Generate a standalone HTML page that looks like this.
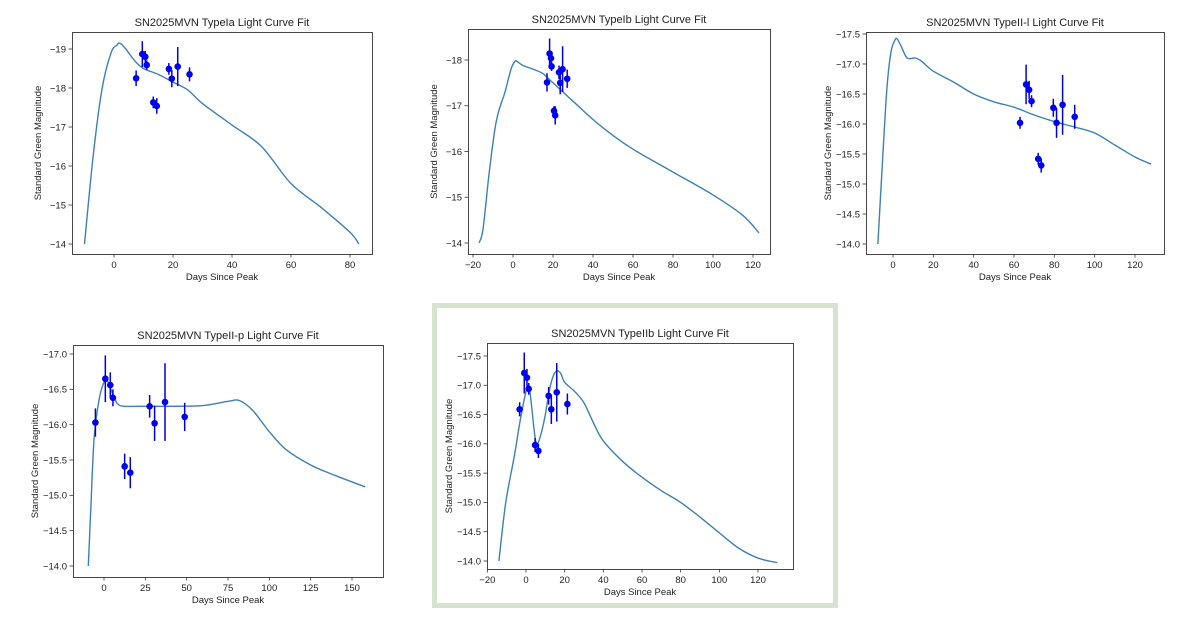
<!DOCTYPE html>
<html><head><meta charset="utf-8"><style>
body{margin:0;background:#fff;}
svg{display:block;font-family:"Liberation Sans",sans-serif;}
</style></head><body>
<svg id="fig" width="1184" height="634">
<rect x="434.5" y="305.5" width="401" height="300" fill="none" stroke="#d5e4cc" stroke-width="5"/>
</svg>
<script>
// ---- Type Ia ----
const iaCurveDays=[-10,-7,-4,-1,1,2,4,7,10,15,20,25,30,40,50,60,70,80,83];
const iaCurveMags=[-14,-16.3,-18,-18.9,-19.1,-19.15,-19,-18.7,-18.5,-18.35,-18.15,-17.95,-17.6,-17.05,-16.5,-15.55,-14.95,-14.3,-14];
const iaObsDays=[7.5,9.6,10.6,11.1,13.3,14.5,18.6,19.6,21.6,25.6];
const iaObsMags=[-18.25,-18.87,-18.8,-18.59,-17.63,-17.54,-18.49,-18.24,-18.55,-18.35];
const iaObsErr=[0.2,0.33,0.15,0.12,0.15,0.2,0.15,0.22,0.5,0.18];
const iaXTicks=[0,20,40,60,80];
const iaYTicks=[-19,-18,-17,-16,-15,-14];
// ---- Type Ib ----
const ibCurveDays=[-17,-15,-12,-9,-7,-4,-1,1,2,5,10,15,20,30,40,50,60,80,100,115,123];
const ibCurveMags=[-14,-14.3,-15.5,-16.5,-16.9,-17.3,-17.8,-17.97,-17.97,-17.88,-17.8,-17.7,-17.5,-17.1,-16.7,-16.35,-16.05,-15.55,-15.05,-14.6,-14.22];
const ibObsDays=[17,18.3,19,19.3,20.5,21.1,23,23.6,24.8,27.1];
const ibObsMags=[-17.51,-18.14,-18.04,-17.86,-16.89,-16.79,-17.73,-17.5,-17.8,-17.59];
const ibObsErr=[0.2,0.33,0.15,0.1,0.1,0.2,0.15,0.25,0.5,0.2];
const ibXTicks=[-20,0,20,40,60,80,100,120];
const ibYTicks=[-18,-17,-16,-15,-14];
// ---- Type II-l ----
const ilCurveDays=[-7.5,-5,-3,-1,1,2,4,7,11,14,20,30,40,50,60,70,80,90,100,110,120,128];
const ilCurveMags=[-14,-15.5,-16.6,-17.2,-17.4,-17.42,-17.3,-17.1,-17.1,-17.05,-16.88,-16.7,-16.5,-16.37,-16.28,-16.15,-16.04,-15.95,-15.85,-15.65,-15.45,-15.33];
const ilObsDays=[63,66,67.5,68.7,72,73.5,79.5,81.1,84.1,90.1];
const ilObsMags=[-16.02,-16.66,-16.57,-16.38,-15.42,-15.31,-16.27,-16.02,-16.32,-16.12];
const ilObsErr=[0.1,0.33,0.15,0.1,0.1,0.12,0.15,0.25,0.5,0.2];
const ilXTicks=[0,20,40,60,80,100,120];
const ilYTicks=[-17.5,-17,-16.5,-16,-15.5,-15,-14.5,-14];
// ---- Type II-p ----
const ipCurveDays=[-9.5,-8,-6,-3,0,2,5,8,12,20,40,60,75,82,90,100,110,125,140,158];
const ipCurveMags=[-14,-14.8,-15.8,-16.35,-16.6,-16.62,-16.45,-16.3,-16.26,-16.26,-16.26,-16.27,-16.33,-16.34,-16.2,-15.9,-15.65,-15.43,-15.28,-15.12];
const ipObsDays=[-5.2,0.8,3.8,5.4,12.5,15.9,27.6,30.6,36.9,48.8];
const ipObsMags=[-16.03,-16.65,-16.56,-16.38,-15.41,-15.32,-16.26,-16.02,-16.32,-16.11];
const ipObsErr=[0.2,0.33,0.18,0.12,0.18,0.22,0.16,0.25,0.55,0.2];
const ipXTicks=[0,25,50,75,100,125,150];
const ipYTicks=[-17,-16.5,-16,-15.5,-15,-14.5,-14];
// ---- Type IIb ----
const iibCurveDays=[-14,-12,-10,-6,-3,0,1,2,4,5,6,8,10,12,14,16,18,20,25,30,35,40,50,60,70,80,90,100,110,120,130];
const iibCurveMags=[-14,-14.6,-15.1,-15.8,-16.4,-16.9,-17.0,-16.9,-16.3,-16.05,-16.0,-16.2,-16.5,-16.9,-17.15,-17.25,-17.2,-17.05,-16.9,-16.7,-16.35,-16.05,-15.7,-15.43,-15.2,-15.0,-14.75,-14.48,-14.22,-14.05,-13.97];
const iibObsDays=[-3.3,-0.9,0.5,1.4,4.7,6.4,11.7,13.1,15.9,21.4];
const iibObsMags=[-16.59,-17.21,-17.13,-16.94,-15.98,-15.88,-16.82,-16.59,-16.88,-16.68];
const iibObsErr=[0.12,0.35,0.15,0.1,0.12,0.12,0.15,0.25,0.5,0.18];
const iibXTicks=[-20,0,20,40,60,80,100,120];
const iibYTicks=[-17.5,-17,-16.5,-16,-15.5,-15,-14.5,-14];

const NS='http://www.w3.org/2000/svg';
const svg=document.getElementById('fig');
function mk(tag,attrs,parent,text){const e=document.createElementNS(NS,tag);for(const k in attrs)e.setAttribute(k,attrs[k]);if(text!==undefined)e.textContent=text;(parent||svg).appendChild(e);return e;}
function fmt(v,dec){const s=Math.abs(v).toFixed(dec);return (v<0?'\u2212':'')+s;}

function panel(key,title,box,xr,yr,cd,cm,od,om,oe,xt,yt,ydec){
  const g=mk('g',{});
  
  
  const [L,T,R,B]=box;
  // xr: [d0,px0,d1,px1], yr: [m0,py0,m1,py1]
  const X=d=>xr[1]+(d-xr[0])*(xr[3]-xr[1])/(xr[2]-xr[0]);
  const Y=m=>yr[1]+(m-yr[0])*(yr[3]-yr[1])/(yr[2]-yr[0]);
  const fr=mk('rect',{x:L+0.5,y:T+0.5,width:R-L,height:B-T,fill:'none',stroke:'#333','stroke-width':0.9},g);
  
  
  xt.forEach(v=>{const x=X(v);
    const tk=mk('line',{x1:x,x2:x,y1:B,y2:B+3.5,stroke:'#333','stroke-width':0.8},g);
    
    
    const tl=mk('text',{x:x,y:B+14,'font-size':9.5,'text-anchor':'middle',fill:'#222'},g,fmt(v,0));
    
    
  });
  yt.forEach(v=>{const y=Y(v);
    const tk=mk('line',{x1:L-3.5,x2:L,y1:y,y2:y,stroke:'#333','stroke-width':0.8},g);
    
    
    const tl=mk('text',{x:L-6,y:y+3.3,'font-size':9.5,'text-anchor':'end',fill:'#222'},g,fmt(v,ydec));
    
    
  });
  const tt=mk('text',{x:(L+R)/2,y:T-6,'font-size':11,'text-anchor':'middle',fill:'#222'},g,title);
  
  
  const xl=mk('text',{x:(L+R)/2,y:B+26,'font-size':9.5,'text-anchor':'middle',fill:'#222'},g,'Days Since Peak');
  
  
  const yx=L-(ydec?35:31), yc=(T+B)/2;
  const yl=mk('text',{x:yx,y:yc,'font-size':9.5,'text-anchor':'middle',fill:'#222',transform:`rotate(-90 ${yx} ${yc})`},g,'Standard Green Magnitude');
  
  
  // smooth curve (Catmull-Rom)
  const P=cd.map((d,i)=>[X(d),Y(cm[i])]);
  let d='M'+P[0][0]+','+P[0][1];
  for(let i=0;i<P.length-1;i++){
    const p0=P[i-1]||P[i],p1=P[i],p2=P[i+1],p3=P[i+2]||P[i+1];
    d+=` C${p1[0]+(p2[0]-p0[0])/6},${p1[1]+(p2[1]-p0[1])/6} ${p2[0]-(p3[0]-p1[0])/6},${p2[1]-(p3[1]-p1[1])/6} ${p2[0]},${p2[1]}`;
  }
  const cv=mk('path',{d:d,fill:'none',stroke:'#3b80b8','stroke-width':1.4},g);
  
  
  od.forEach((dd,i)=>{const x=X(dd);
    const eb=mk('line',{x1:x,x2:x,y1:Y(om[i]-oe[i]),y2:Y(om[i]+oe[i]),stroke:'#0000e0','stroke-width':1.5},g);
    
    
    const pt=mk('circle',{cx:x,cy:Y(om[i]),r:3.3,fill:'#0000f0'},g);
    
    
  });
}
panel('type-ia','SN2025MVN TypeIa Light Curve Fit',[72,32,372,254],[0,114,80,350],[-19,49,-14,244],iaCurveDays,iaCurveMags,iaObsDays,iaObsMags,iaObsErr,iaXTicks,iaYTicks,0);
panel('type-ib','SN2025MVN TypeIb Light Curve Fit',[468,29,770,254],[-20,473,120,753],[-18,60,-14,243],ibCurveDays,ibCurveMags,ibObsDays,ibObsMags,ibObsErr,ibXTicks,ibYTicks,0);
panel('type-ii-l','SN2025MVN TypeII-l Light Curve Fit',[866,32,1164,254],[0,893,120,1135],[-17.5,34,-14,244],ilCurveDays,ilCurveMags,ilObsDays,ilObsMags,ilObsErr,ilXTicks,ilYTicks,1);
panel('type-ii-p','SN2025MVN TypeII-p Light Curve Fit',[73,345,383,577],[0,104,150,352],[-17,354,-14,566],ipCurveDays,ipCurveMags,ipObsDays,ipObsMags,ipObsErr,ipXTicks,ipYTicks,1);
panel('type-iib','SN2025MVN TypeIIb Light Curve Fit',[487,343,793,569],[0,526,120,758],[-17.5,356,-14,561],iibCurveDays,iibCurveMags,iibObsDays,iibObsMags,iibObsErr,iibXTicks,iibYTicks,1);
</script>
</body></html>
